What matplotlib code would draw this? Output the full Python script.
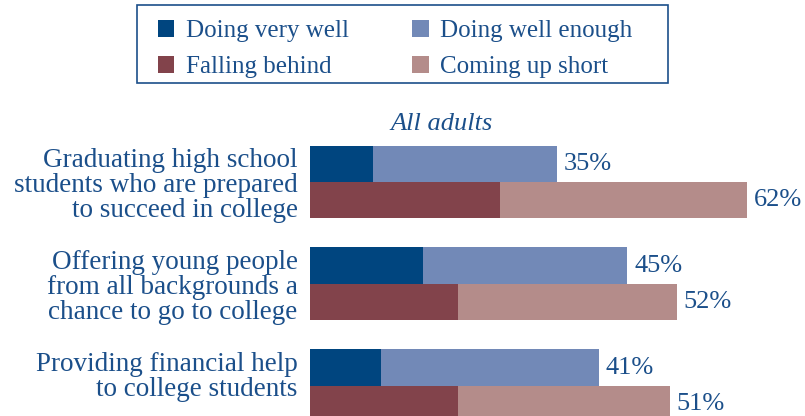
import numpy as np
import matplotlib.pyplot as plt
from matplotlib.patches import Rectangle

# Ratings by item (percent of all adults)
items = [
    "Graduating high school\nstudents who are prepared\nto succeed in college",
    "Offering young people\nfrom all backgrounds a\nchance to go to college",
    "Providing financial help\nto college students",
]
very_well = [9, 16, 10]
well_total = [35, 45, 41]      # very well + well enough
behind = [27, 21, 21]
short_total = [62, 52, 51]     # falling behind + coming up short

c_very = "#00457f"
c_enough = "#7289b7"
c_behind = "#82434b"
c_short = "#b48c8a"
c_text = "#1b4f8a"

plt.rcParams['font.family'] = ['Liberation Serif', 'DejaVu Serif']

W, H = 805, 416
fig = plt.figure(figsize=(W / 100, H / 100), dpi=100)
px_per_pct = 7.05
left_px = 310
ax = fig.add_axes([left_px / W, 0, 1 - left_px / W, 1])
ax.set_xlim(0, (W - left_px) / px_per_pct)
ax.set_ylim(H / 100, 0)

# y in units of 100 px; the two bars of a group meet at `mid`
bar_h = 0.365
mid = 1.82 + 1.02 * np.arange(len(items))
y_top = mid - bar_h / 2
y_bot = mid + bar_h / 2

enough = np.array(well_total) - np.array(very_well)
short = np.array(short_total) - np.array(behind)

b1 = ax.barh(y_top, very_well, height=bar_h, color=c_very, label="Doing very well")
b2 = ax.barh(y_top, enough, left=very_well, height=bar_h, color=c_enough,
             label="Doing well enough")
b3 = ax.barh(y_bot, behind, height=bar_h, color=c_behind, label="Falling behind")
b4 = ax.barh(y_bot, short, left=behind, height=bar_h, color=c_short,
             label="Coming up short")

fs = 19
ax.bar_label(b2, labels=[f"{v}%" for v in well_total], padding=5,
             fontsize=fs, color=c_text)
ax.bar_label(b4, labels=[f"{v}%" for v in short_total], padding=5,
             fontsize=fs, color=c_text)

# category labels, right aligned to the left of the bars
for lab, y in zip(items, mid - bar_h):
    ax.annotate(lab, xy=(0, y), xycoords=('axes fraction', 'data'),
                xytext=(-9, -2), textcoords='offset points',
                ha='right', va='top', fontsize=19.5, color=c_text,
                linespacing=1.0)

ax.text(132 / px_per_pct, 1.24, "All adults",
        ha='center', va='center', fontsize=fs, style='italic', color=c_text)

ax.set_xticks([])
ax.set_yticks([])
for s in ax.spines.values():
    s.set_visible(False)

# legend entries, with a plain box drawn around them
box_x, box_y, box_w, box_h = 137, 5, 531, 78
leg = fig.legend([b1, b3, b2, b4],
                 ["Doing very well", "Falling behind",
                  "Doing well enough", "Coming up short"],
                 ncol=2, loc='upper left', mode='expand',
                 bbox_to_anchor=((box_x + 6) / W, 0, (box_w - 27) / W, 1 - box_y / H),
                 fontsize=18, labelcolor=c_text, frameon=False,
                 handlelength=0.65, handleheight=0.65, handletextpad=0.45,
                 labelspacing=0.55, borderpad=0.6, borderaxespad=0)
fig.add_artist(Rectangle((box_x / W, 1 - (box_y + box_h) / H), box_w / W, box_h / H,
                         transform=fig.transFigure, fill=False,
                         edgecolor=c_text, linewidth=1.2))

fig.savefig("out.png", dpi=100)
